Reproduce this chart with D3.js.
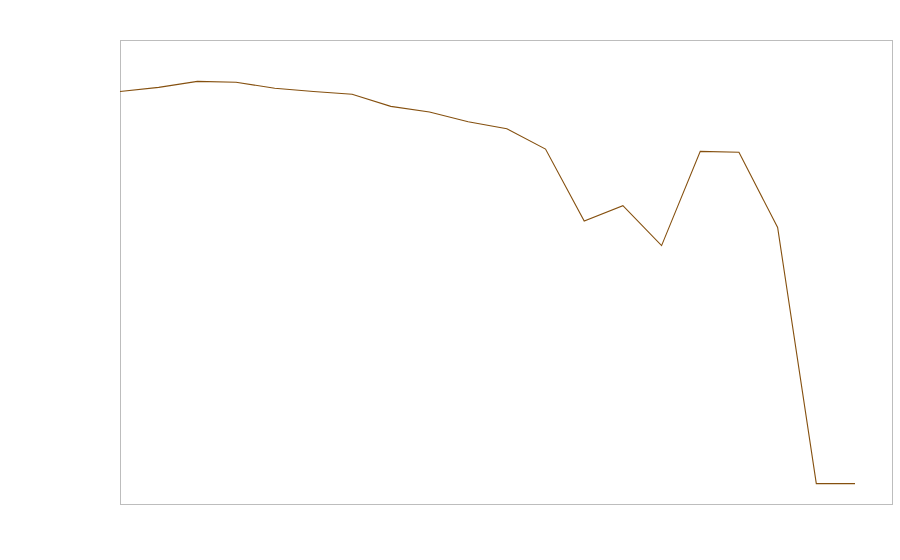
<!DOCTYPE html>
<html>
<head>
<meta charset="utf-8">
<script src="https://cdn.jsdelivr.net/npm/d3@7"></script>
<style>
  body { margin: 0; background: #fff; }
  .frame { fill: none; stroke: #bdbdbd; stroke-width: 1; }
  .line { fill: none; stroke: #85500f; stroke-width: 1.1; }
</style>
</head>
<body>
<div id="chart"></div>
<script>
// one series, 20 points, no labels shown in the picture
var steps = d3.range(20);
var values = [89.0, 89.9, 91.2, 91.0, 89.7, 89.0, 88.4, 85.8, 84.6, 82.5,
              81.0, 76.6, 61.1, 64.4, 55.8, 76.1, 75.9, 59.7, 4.5, 4.5];

var margin = {top: 40, right: 7, bottom: 56, left: 120},
    width = 900 - margin.left - margin.right,
    height = 560 - margin.top - margin.bottom;

var x = d3.scaleLinear()
    .domain([0, 19])
    .range([0, 735]);

var y = d3.scaleLinear()
    .domain([0, 100])
    .range([height + 0.5, 0.5]);

var line = d3.line()
    .x(function(d, i) { return x(steps[i]); })
    .y(function(d) { return y(d); });

var svg = d3.select("#chart").append("svg")
    .attr("width", 900)
    .attr("height", 560)
    .append("g")
    .attr("transform", "translate(" + margin.left + "," + margin.top + ")");

svg.append("rect")
    .attr("class", "frame")
    .attr("x", 0.5)
    .attr("y", 0.5)
    .attr("width", width - 1)
    .attr("height", height);

svg.append("path")
    .datum(values)
    .attr("class", "line")
    .attr("d", line);
</script>
</body>
</html>
